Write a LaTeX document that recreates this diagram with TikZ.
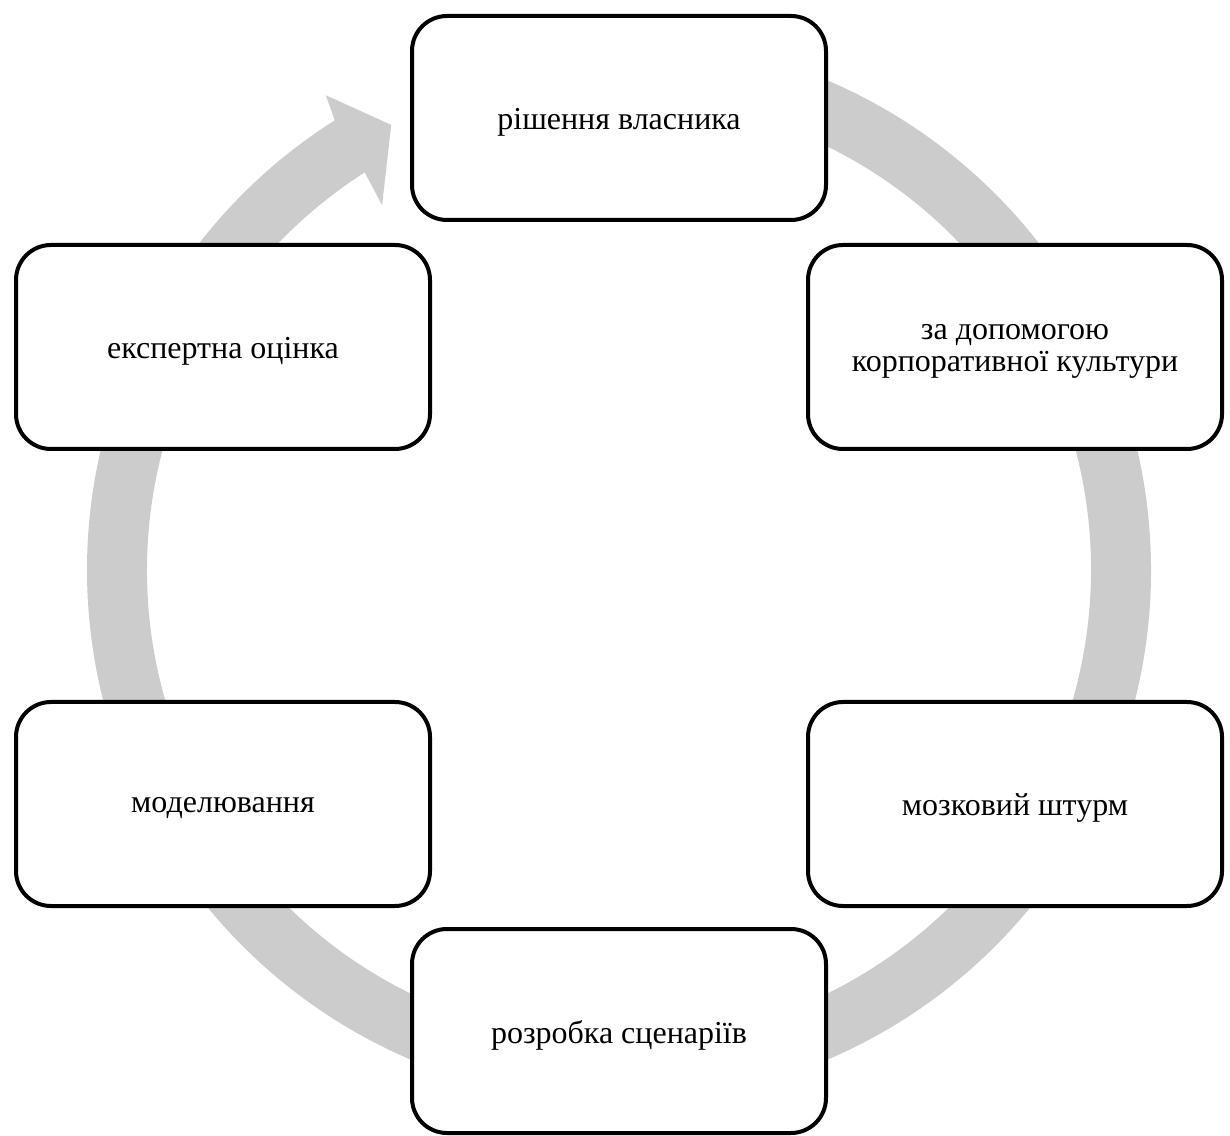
\documentclass[tikz,border=0pt]{standalone}
\usepackage{fontspec}
\setmainfont{Liberation Serif}
\definecolor{ringgray}{HTML}{CCCCCC}
\begin{document}
\begin{tikzpicture}[x=0.5pt,y=0.5pt,
  stepbox/.style={draw=black,line width=2pt,fill=white,rounded corners=17.5pt,
    minimum width=207pt,minimum height=102pt,outer sep=0pt},
  steptext/.style={align=center,font=\fontsize{16}{16}\selectfont,inner sep=0pt}]
\useasboundingbox (0,0) rectangle (1230,1135);
\begin{scope}[shift={(619,565)}]
\fill[ringgray] (95:532) arc[start angle=95,end angle=-237.7,radius=532]
  -- (-238.3:558) -- (-242.9:500) -- (-237:435) -- (-237.4:472)
  arc[start angle=-237.4,end angle=95,radius=472] -- cycle;
\end{scope}
\node[stepbox] (owner) at (619,1017) {};
\node[stepbox] (culture) at (1015,788) {};
\node[stepbox] (storm) at (1015,331) {};
\node[stepbox] (scen) at (619,104) {};
\node[stepbox] (model) at (223,331) {};
\node[stepbox] (expert) at (223,788) {};
\node[steptext] (ownerT) at (619,1013) {рішення власника};
\node[steptext] (cultureT) at (1015,784) {за допомогою\\корпоративної культури};
\node[steptext] (stormT) at (1015,327) {мозковий штурм};
\node[steptext] (scenT) at (619,100) {розробка сценаріїв};
\node[steptext] (modelT) at (223,327) {моделювання};
\node[steptext] (expertT) at (223,784) {експертна оцінка};
\end{tikzpicture}
\end{document}
